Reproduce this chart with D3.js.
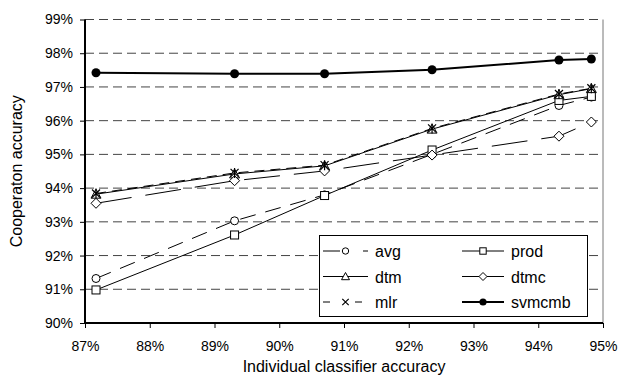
<!DOCTYPE html>
<html>
<head>
<meta charset="utf-8">
<script src="https://cdn.jsdelivr.net/npm/d3@7"></script>
<style>
  body { margin: 0; background: #fff; }
  text { font-family: "Liberation Sans", Arial, sans-serif; fill: #000; }
</style>
</head>
<body>
<script>
const xVals = [87.17, 89.31, 90.70, 92.36, 94.32, 94.82]
const avg = [91.32, 93.03, 93.80, 95.00, 96.45, 96.70]
const prod = [90.98, 92.61, 93.78, 95.13, 96.60, 96.72]
const dtm = [93.82, 94.42, 94.66, 95.75, 96.77, 96.95]
const dtmc = [93.55, 94.22, 94.51, 94.98, 95.54, 95.96]
const mlr = [93.84, 94.45, 94.68, 95.77, 96.79, 96.96]
const svmcmb = [97.42, 97.39, 97.39, 97.51, 97.80, 97.83]
const xTicks = [87, 88, 89, 90, 91, 92, 93, 94, 95]
const yTicks = [90, 91, 92, 93, 94, 95, 96, 97, 98, 99]

const series = [
    {name: 'avg', values: avg, marker: 'circle', dash: '16,10', legendDash: '17,23,5,10', width: 1},
    {name: 'prod', values: prod, marker: 'square', dash: null, legendDash: null, width: 1},
    {name: 'dtm', values: dtm, marker: 'triangle', dash: null, legendDash: null, width: 1},
    {name: 'dtmc', values: dtmc, marker: 'diamond', dash: '36,14', legendDash: null, width: 1},
    {name: 'mlr', values: mlr, marker: 'star', dash: '10,6', legendDash: '7,25,7,10', width: 1},
    {name: 'svmcmb', values: svmcmb, marker: 'dot', dash: null, legendDash: null, width: 2}
]

let width = 620, height = 379
const pLeft = 85, pRight = 603, pTop = 19.5, pBottom = 323

const svg = d3.select('body')
    .append('svg')
    .attr('width', width)
    .attr('height', height)

const x = d3.scaleLinear().domain([87, 95]).range([pLeft, pRight])
const y = d3.scaleLinear().domain([90, 99]).range([pBottom, pTop])

// grid
svg.append('g')
    .selectAll('line')
    .data(yTicks.slice(1))
    .enter()
    .append('line')
    .attr('x1', pLeft).attr('x2', pRight)
    .attr('y1', d => y(d)).attr('y2', d => y(d))
    .attr('stroke', '#444')
    .attr('stroke-width', 1)
    .attr('stroke-dasharray', '9,5')

// right border
svg.append('line')
    .attr('x1', pRight).attr('x2', pRight)
    .attr('y1', pTop).attr('y2', pBottom)
    .attr('stroke', '#777')
    .attr('stroke-width', 1)

// axes
const xAxis = d3.axisBottom(x).tickValues(xTicks).tickSize(5).tickFormat(d => d + '%')
const yAxis = d3.axisLeft(y).tickValues(yTicks).tickSize(5).tickFormat(d => d + '%')

const gx = svg.append('g')
    .attr('transform', 'translate(0,' + pBottom + ')')
    .call(xAxis)
gx.select('.domain').attr('stroke-width', 2).attr('d', 'M' + (pLeft - 1) + ',0H' + pRight)
gx.selectAll('.tick text').attr('font-size', 14).attr('dy', 0).attr('y', 28)

const gy = svg.append('g')
    .attr('transform', 'translate(' + pLeft + ',0)')
    .call(yAxis)
gy.select('.domain').attr('stroke-width', 2).attr('d', 'M0,' + (pBottom + 1) + 'V' + pTop)
gy.selectAll('.tick text').attr('font-size', 14).attr('x', -12)
gx.attr('font-family', null)
gy.attr('font-family', null)

svg.append('text')
    .attr('x', (pLeft + pRight) / 2)
    .attr('y', 372)
    .attr('text-anchor', 'middle')
    .attr('font-size', 16)
    .text('Individual classifier accuracy')

svg.append('text')
    .attr('transform', 'translate(22,' + ((pTop + pBottom) / 2) + ') rotate(-90)')
    .attr('text-anchor', 'middle')
    .attr('font-size', 16)
    .text('Cooperaton accuracy')

function drawMarker(g, type, cx, cy, small) {
    const k = small ? 0.8 : 1
    if (type === 'circle') {
        g.append('circle').attr('cx', cx).attr('cy', cy).attr('r', 4 * k)
            .attr('fill', '#fff').attr('stroke', '#000')
    } else if (type === 'square') {
        const s = 8 * k
        g.append('rect').attr('x', cx - s / 2).attr('y', cy - s / 2).attr('width', s).attr('height', s)
            .attr('fill', '#fff').attr('stroke', '#000')
    } else if (type === 'triangle') {
        const s = 5 * k
        g.append('path').attr('d', `M${cx},${cy - s}L${cx + s},${cy + s * 0.8}L${cx - s},${cy + s * 0.8}Z`)
            .attr('fill', '#fff').attr('stroke', '#000')
    } else if (type === 'diamond') {
        const s = 5 * k
        g.append('path').attr('d', `M${cx},${cy - s}L${cx + s},${cy}L${cx},${cy + s}L${cx - s},${cy}Z`)
            .attr('fill', '#fff').attr('stroke', '#000')
    } else if (type === 'star') {
        const s = 4 * k
        let d = `M${cx - s},${cy - s}L${cx + s},${cy + s}M${cx - s},${cy + s}L${cx + s},${cy - s}`
        if (!small) d += `M${cx},${cy - s - 1}V${cy + s + 1}`
        g.append('path').attr('d', d).attr('stroke', '#000').attr('stroke-width', 1.2)
    } else if (type === 'dot') {
        g.append('circle').attr('cx', cx).attr('cy', cy).attr('r', 4.5 * k).attr('fill', '#000')
    }
}

const line = d3.line()
    .x((d, i) => x(xVals[i]))
    .y(d => y(d))

series.forEach(s => {
    const g = svg.append('g')
    g.append('path')
        .attr('d', line(s.values))
        .attr('fill', 'none')
        .attr('stroke', '#000')
        .attr('stroke-width', s.width)
        .attr('stroke-dasharray', s.dash)
    s.values.forEach((v, i) => drawMarker(g, s.marker, x(xVals[i]), y(v), false))
})

// legend
const lg = svg.append('g')
lg.append('rect')
    .attr('x', 319.5).attr('y', 235.5).attr('width', 268).attr('height', 81)
    .attr('fill', '#fff').attr('stroke', '#000').attr('stroke-width', 1)

series.forEach((s, i) => {
    const col = i % 2, row = Math.floor(i / 2)
    const x0 = col === 0 ? 323 : 462
    const len = col === 0 ? 45 : 42
    const yy = 251 + row * 25.5
    lg.append('line')
        .attr('x1', x0).attr('x2', x0 + len)
        .attr('y1', yy).attr('y2', yy)
        .attr('stroke', '#000')
        .attr('stroke-width', s.width)
        .attr('stroke-dasharray', s.legendDash)
    drawMarker(lg, s.marker, x0 + len / 2, yy, true)
    lg.append('text')
        .attr('x', x0 + len + 7)
        .attr('y', yy + 6)
        .attr('font-size', 16)
        .text(s.name)
})
</script>
</body>
</html>
